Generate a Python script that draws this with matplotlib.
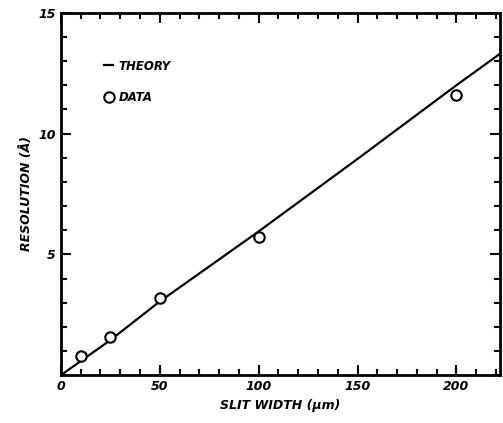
import numpy as np
import matplotlib.pyplot as plt
from matplotlib.ticker import MultipleLocator

# data
slit_data = [10, 25, 50, 100, 200]
res_data = [0.8, 1.6, 3.2, 5.7, 11.6]

slit_theory = [0, 25, 50, 100, 150, 200, 222]
res_theory = [0, 1.45, 3.05, 5.95, 8.95, 12.0, 13.3]

plt.rcParams['font.family'] = 'DejaVu Sans'
plt.rcParams['font.style'] = 'italic'
plt.rcParams['font.weight'] = 'bold'
plt.rcParams['axes.labelweight'] = 'bold'

fig = plt.figure(figsize=(5.03, 4.23), dpi=100)
ax = fig.add_axes([0.121, 0.113, 0.873, 0.857])

ax.plot(slit_theory, res_theory, color='black', lw=1.6, label='THEORY')
ax.plot(slit_data, res_data, 'o', mfc='white', mec='black', mew=1.5, ms=7.5, label='DATA')

ax.set_xlim(0, 222)
ax.set_ylim(0, 15)
ax.set_xticks([0, 50, 100, 150, 200])
ax.set_yticks([5, 10, 15])
ax.xaxis.set_minor_locator(MultipleLocator(10))
ax.yaxis.set_minor_locator(MultipleLocator(1))
ax.tick_params(which='both', direction='in', top=True, right=True, width=1.5, labelsize=9)
ax.tick_params(which='major', length=7)
ax.tick_params(which='minor', length=4)
for s in ax.spines.values():
    s.set_linewidth(2)

ax.set_xlabel('SLIT WIDTH (μm)', fontsize=9)
ax.set_ylabel('RESOLUTION (Å)', fontsize=9)

ax.legend(loc='upper left', bbox_to_anchor=(0.075, 0.9), frameon=False,
          fontsize=8.5, handlelength=0.7, handletextpad=0.5, labelspacing=1.6)

fig.savefig('out.png', dpi=100)
